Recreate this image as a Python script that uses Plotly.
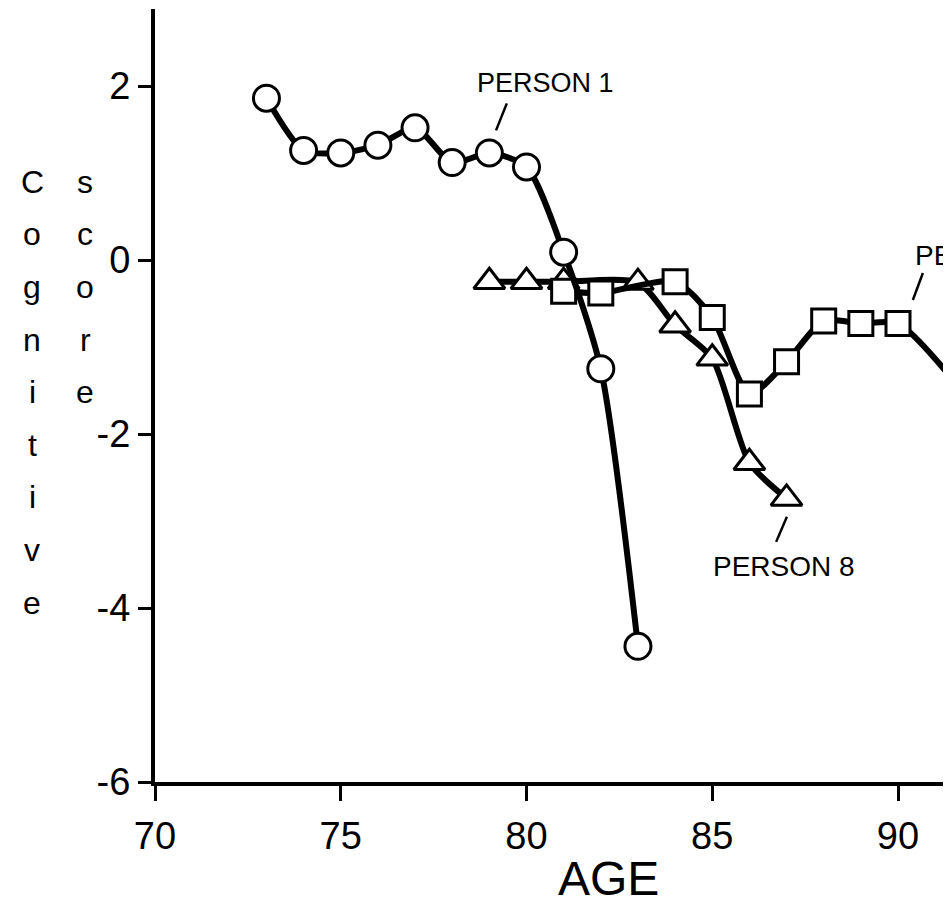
import plotly.graph_objects as go

# ---- data ----
p1_age = [73, 74, 75, 76, 77, 78, 79, 80, 81, 82, 83]
p1_score = [1.86, 1.26, 1.23, 1.32, 1.52, 1.12, 1.23, 1.07, 0.09, -1.25, -4.44]

p8_age = [79, 80, 81, 83, 84, 85, 86, 87]
p8_score = [-0.25, -0.25, -0.25, -0.26, -0.75, -1.13, -2.33, -2.74]

p2_age = [81, 82, 84, 85, 86, 87, 88, 89, 90, 92]
p2_score = [-0.36, -0.38, -0.25, -0.66, -1.54, -1.17, -0.70, -0.73, -0.73, -1.65]

x_ticks = [70, 75, 80, 85, 90]
x_ticktext = ["70", "75", "80", "85", "90"]
y_ticks = [-6, -4, -2, 0, 2]
y_ticktext = ["-6", "-4", "-2", "0", "2"]

FONT = "Liberation Sans Narrow, Arial Narrow, Liberation Sans, Arial, sans-serif"

# plot-area geometry (figure px; page has an 8px body margin)
OFF = 8
L, T, H = 147, 1, 773
W = 951 - L
PX_PER_X = 37.15


def px_to_paper(xpage, ypage):
    return (xpage - OFF - L) / W, 1 - (ypage - OFF - T) / H


fig = go.Figure()


def add_series(x, y, symbol, size):
    fig.add_trace(go.Scatter(
        x=x, y=y, mode="lines+markers",
        line=dict(color="black", width=6, shape="spline", smoothing=0.7),
        marker=dict(symbol=symbol, size=size, color="white",
                    line=dict(color="black", width=3)),
        showlegend=False, cliponaxis=True))


add_series(p8_age, p8_score, "triangle-up", 27)
add_series(p2_age, p2_score, "square", 24)
add_series(p1_age, p1_score, "circle", 26)

ax_age, ay_age = px_to_paper(608, 878)
annotations = [
    dict(x=80.52, y=2.03, text="PERSON 1", showarrow=False,
         font=dict(size=27, color="black", family=FONT)),
    dict(x=86.93, y=-3.52, text="PERSON 8", showarrow=False,
         font=dict(size=28, color="black", family=FONT)),
    dict(x=90.40, y=0.05, text="PERSON 2", showarrow=False, xanchor="left",
         font=dict(size=28, color="black", family=FONT)),
    dict(xref="paper", yref="paper", x=ax_age, y=ay_age,
         text="AGE", showarrow=False, yanchor="middle",
         font=dict(size=48, color="black", family=FONT)),
]


# vertical stacked y-axis title letters
def stack(word, xpage, size):
    for k, ch in enumerate(word):
        base = 193 + 52.6 * k
        cy = base - 0.35 * size
        px_, py_ = px_to_paper(xpage, cy)
        annotations.append(dict(
            xref="paper", yref="paper", x=px_, y=py_,
            text=ch, showarrow=False, xanchor="center", yanchor="middle",
            font=dict(size=size, color="black", family=FONT)))


stack("Cognitive", 32, 32)
stack("score", 85, 32)

shapes = [
    dict(type="line", x0=79.47, y0=1.80, x1=79.18, y1=1.49,
         line=dict(color="black", width=2.5)),
    dict(type="line", x0=87.01, y0=-2.95, x1=86.72, y1=-3.24,
         line=dict(color="black", width=2.5)),
    dict(type="line", x0=90.67, y0=-0.15, x1=90.40, y1=-0.46,
         line=dict(color="black", width=2.5)),
]

fig.update_layout(
    width=951, height=916,
    margin=dict(l=L, r=0, t=T, b=916 - T - H, pad=0),
    paper_bgcolor="white", plot_bgcolor="white",
    annotations=annotations, shapes=shapes,
    xaxis=dict(range=[70, 70 + W / PX_PER_X], tickvals=x_ticks, ticktext=x_ticktext,
               showgrid=False, zeroline=False, showline=True, linecolor="black",
               linewidth=4, ticks="outside", ticklen=15, tickwidth=3,
               tickcolor="black", ticklabelstandoff=2,
               tickfont=dict(size=38, color="black", family=FONT)),
    yaxis=dict(range=[-6, 2.885], tickvals=y_ticks, ticktext=y_ticktext,
               showgrid=False, zeroline=False, showline=True, linecolor="black",
               linewidth=4, ticks="outside", ticklen=13, tickwidth=3,
               tickcolor="black",
               tickfont=dict(size=38, color="black", family=FONT)),
)

fig.write_html("out.html")
